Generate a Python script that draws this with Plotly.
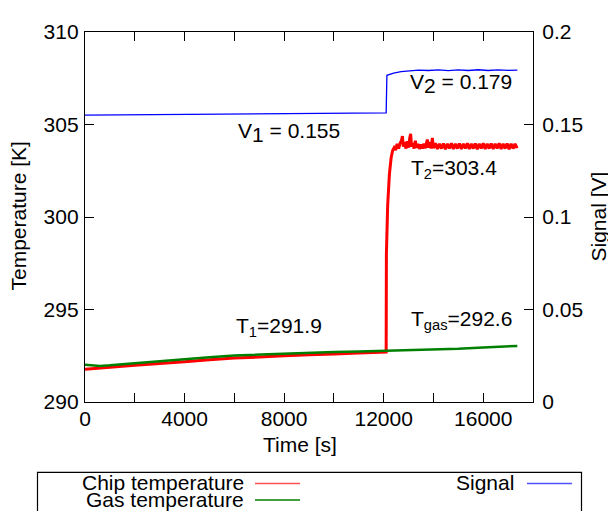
import plotly.graph_objects as go

# ---------------- data ----------------
chip_time = [0, 500, 1000, 2000, 3000, 4000, 5000, 6000, 7000, 8000, 9000, 10000, 11000, 12100,
             12110, 12160, 12230, 12300, 12360, 12420, 12480, 12540, 12600, 12660, 12720, 12752, 12790,
             12830, 12860, 12900, 12950, 13000, 13050, 13085, 13120, 13170, 13220, 13273, 13320, 13380,
             13440, 13500, 13560, 13620, 13680, 13720, 13754, 13800, 13860, 13910, 13955, 14000, 14080,
             14160, 14240, 14320, 14400, 14480, 14560, 14640, 14720, 14800, 14880, 14960, 15040, 15120,
             15200, 15280, 15360, 15440, 15520, 15600, 15680, 15760, 15840, 15920, 16000, 16080, 16160,
             16240, 16320, 16400, 16480, 16560, 16640, 16720, 16800, 16880, 16960, 17040, 17120, 17200,
             17280, 17363]
chip_temp = [291.77, 291.82, 291.88, 291.98, 292.08, 292.18, 292.28, 292.38, 292.43, 292.50, 292.55,
             292.60, 292.65, 292.70,
             298.0, 300.6, 302.3, 303.2, 303.6, 303.75, 303.62, 303.95, 303.7, 303.98, 304.15, 304.37,
             303.8, 304.05, 303.9, 303.7, 304.1, 303.75, 304.3, 304.49, 303.8, 304.0, 303.7, 304.12,
             303.75, 303.95, 303.68, 303.92, 303.7, 303.96, 303.72, 304.0, 304.19, 303.75, 304.05,
             303.7, 304.28, 303.72, 303.98, 303.68, 303.95, 303.7, 303.97, 303.66, 303.96, 303.7,
             303.98, 303.68, 303.95, 303.7, 303.97, 303.67, 303.96, 303.7, 303.98, 303.68, 303.95,
             303.7, 303.97, 303.66, 303.96, 303.7, 303.98, 303.68, 303.95, 303.7, 303.97, 303.67,
             303.96, 303.7, 303.98, 303.68, 303.95, 303.7, 303.97, 303.66, 303.96, 303.7, 303.95,
             303.72, 303.86]

gas_time = [0, 300, 600, 1000, 2000, 3000, 4000, 5000, 6000, 7000, 8000, 9000, 10000, 11000, 12000,
            13000, 14000, 15000, 16000, 16800, 17370]
gas_temp = [292.01, 291.97, 291.95, 291.98, 292.10, 292.22, 292.33, 292.42, 292.52, 292.57, 292.62,
            292.66, 292.70, 292.73, 292.76, 292.80, 292.84, 292.88, 292.95, 292.99, 293.03]

sig_time = [0, 2000, 4000, 6000, 8000, 10000, 12100, 12130, 12200, 12400, 12700, 13000, 13400, 13800,
            14200, 14600, 15000, 15400, 15800, 16200, 16600, 17000, 17370]
sig_volt = [0.1551, 0.1553, 0.1555, 0.1557, 0.1559, 0.1561, 0.1563, 0.1766, 0.1770, 0.1778, 0.1786,
            0.1790, 0.1794, 0.1792, 0.1795, 0.1791, 0.1795, 0.1792, 0.1796, 0.1792, 0.1795, 0.1793,
            0.1794]

x_tick_vals = [0, 4000, 8000, 12000, 16000]
x_tick_text = ["0", "4000", "8000", "12000", "16000"]
y_tick_vals = [290, 295, 300, 305, 310]
y2_tick_vals = [0, 0.05, 0.1, 0.15, 0.2]
y2_tick_text = ["0", "0.05", "0.1", "0.15", "0.2"]

series_names = ["Chip temperature", "Gas temperature", "Signal"]
series_colors = ["#ff0000", "#008000", "#0000ff"]

# ---------------- figure ----------------
# the page body has an 8px margin: the figure is 8px smaller and window
# positions below are shifted by 8px
OFF = 8
W, H = 616 - OFF, 511 - OFF
L, R, T, B = 85 - OFF, 83, 21 - OFF, 109
FONT = "Liberation Sans, Arial, sans-serif"
FS = 21


def px(xpix):
    return (xpix - OFF - L) / (W - L - R)


def py(ypix):
    return (H - B - (ypix - OFF)) / (H - B - T)


fig = go.Figure()
fig.add_trace(go.Scatter(x=chip_time, y=chip_temp, mode="lines", name=series_names[0],
                         line=dict(color=series_colors[0], width=3, simplify=False), yaxis="y"))
fig.add_trace(go.Scatter(x=gas_time, y=gas_temp, mode="lines", name=series_names[1],
                         line=dict(color=series_colors[1], width=2.5), yaxis="y"))
fig.add_trace(go.Scatter(x=sig_time, y=sig_volt, mode="lines", name=series_names[2],
                         line=dict(color=series_colors[2], width=1.3), yaxis="y2"))

axis_common = dict(showgrid=False, zeroline=False, showline=True, linecolor="black", linewidth=1.3,
                   ticks="inside", ticklen=9, tickwidth=1, tickcolor="black",
                   tickfont=dict(family=FONT, size=FS, color="black"))

fig.update_layout(
    width=W, height=H,
    margin=dict(l=L, r=R, t=T, b=B, pad=0),
    paper_bgcolor="white", plot_bgcolor="white",
    showlegend=False,
    font=dict(family=FONT, size=FS, color="black"),
    xaxis=dict(range=[0, 18000], tickvals=x_tick_vals, ticktext=x_tick_text, mirror="allticks",
               minor=dict(ticks="inside", tick0=0, dtick=2000, ticklen=9, tickwidth=1,
                          tickcolor="black", showgrid=False),
               ticklabelstandoff=-2, **axis_common),
    yaxis=dict(range=[290, 310], tickvals=y_tick_vals, mirror=False, ticklabelstandoff=1, **axis_common),
    yaxis2=dict(range=[0, 0.2], tickvals=y2_tick_vals, ticktext=y2_tick_text, overlaying="y",
                side="right", ticklabelstandoff=4, **axis_common),
)

ann = []
ann.append(dict(x=px(300), y=py(446), text="Time [s]", showarrow=False, xanchor="center", yanchor="middle"))
ann.append(dict(x=px(19), y=py(211), text="Temperature [K]", showarrow=False, textangle=-90,
                xanchor="center", yanchor="middle"))
ann.append(dict(x=px(599), y=py(211), text="Signal [V]", showarrow=False, textangle=-90,
                xanchor="center", yanchor="middle"))
big1 = '<sub><span style="font-size:%dpx">1</span></sub>' % FS
big2 = '<sub><span style="font-size:%dpx">2</span></sub>' % FS
ann.append(dict(x=px(236), y=py(124), text="V" + big1 + " = 0.155", showarrow=False, xanchor="left", yanchor="middle"))
ann.append(dict(x=px(408), y=py(74), text="V" + big2 + " = 0.179", showarrow=False, xanchor="left", yanchor="middle"))
ann.append(dict(x=px(409), y=py(162), text="T<sub>2</sub>=303.4", showarrow=False, xanchor="left", yanchor="middle"))
ann.append(dict(x=px(234), y=py(325), text="T<sub>1</sub>=291.9", showarrow=False, xanchor="left", yanchor="middle"))
ann.append(dict(x=px(409), y=py(318), text="T<sub>gas</sub>=292.6", showarrow=False, xanchor="left", yanchor="middle"))

ann.append(dict(x=px(246), y=py(485), text=series_names[0], showarrow=False, xanchor="right", yanchor="middle"))
ann.append(dict(x=px(246), y=py(502), text=series_names[1], showarrow=False, xanchor="right", yanchor="middle"))
ann.append(dict(x=px(516), y=py(485), text=series_names[2], showarrow=False, xanchor="right", yanchor="middle"))
for a in ann:
    a.update(xref="paper", yref="paper")
    a.setdefault("font", dict(family=FONT, size=FS, color="black"))
fig.update_layout(annotations=ann)

shapes = [
    dict(type="rect", xref="paper", yref="paper", x0=px(37.5), x1=px(581.5), y0=py(530), y1=py(474.5),
         line=dict(color="black", width=1.2), fillcolor="rgba(0,0,0,0)"),
    dict(type="line", xref="paper", yref="paper", x0=px(255), x1=px(300), y0=py(486), y1=py(486),
         line=dict(color="#ff5050", width=1.5)),
    dict(type="line", xref="paper", yref="paper", x0=px(255), x1=px(300), y0=py(503), y1=py(503),
         line=dict(color=series_colors[1], width=1.5)),
    dict(type="line", xref="paper", yref="paper", x0=px(527), x1=px(572), y0=py(486), y1=py(486),
         line=dict(color="#5050ff", width=1.5)),
]
fig.update_layout(shapes=shapes)

fig.write_html("out.html")
